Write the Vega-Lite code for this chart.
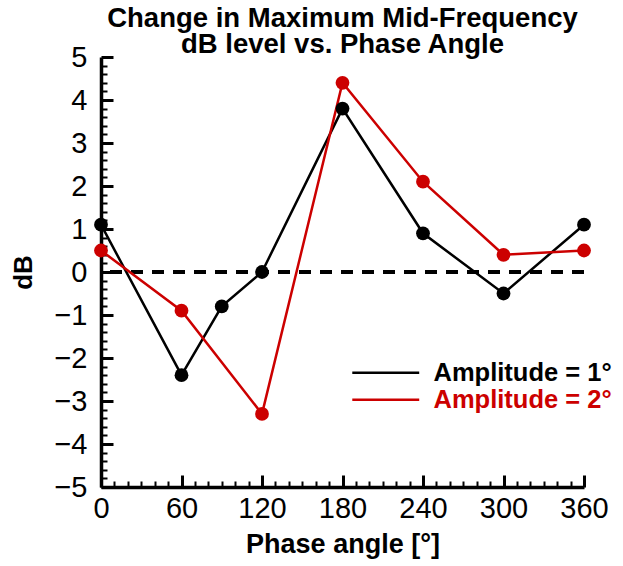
{
  "$schema": "https://vega.github.io/schema/vega-lite/v6.json",
  "autosize": "none",
  "width": 483,
  "height": 430,
  "padding": {"left": 101, "top": 57, "right": 39, "bottom": 79},
  "background": "white",
  "config": {
    "view": {"stroke": null},
    "font": "Liberation Sans",
    "axis": {"grid": false, "domainColor": "black", "tickColor": "black", "labelColor": "black", "titleColor": "black"}
  },
  "title": {
    "text": ["Change in Maximum Mid-Frequency", "dB level  vs. Phase Angle"],
    "anchor": "middle",
    "frame": "group",
    "font": "Liberation Sans",
    "fontSize": 27.5,
    "fontWeight": "bold",
    "lineHeight": 26,
    "color": "black",
    "offset": -15
  },
  "data": {
    "values": [
      {"angle": 0, "db": 1.1, "series": "Amplitude = 1°"},
      {"angle": 60, "db": -2.4, "series": "Amplitude = 1°"},
      {"angle": 90, "db": -0.8, "series": "Amplitude = 1°"},
      {"angle": 120, "db": 0.0, "series": "Amplitude = 1°"},
      {"angle": 180, "db": 3.8, "series": "Amplitude = 1°"},
      {"angle": 240, "db": 0.9, "series": "Amplitude = 1°"},
      {"angle": 300, "db": -0.5, "series": "Amplitude = 1°"},
      {"angle": 360, "db": 1.1, "series": "Amplitude = 1°"},
      {"angle": 0, "db": 0.5, "series": "Amplitude = 2°"},
      {"angle": 60, "db": -0.9, "series": "Amplitude = 2°"},
      {"angle": 120, "db": -3.3, "series": "Amplitude = 2°"},
      {"angle": 180, "db": 4.4, "series": "Amplitude = 2°"},
      {"angle": 240, "db": 2.1, "series": "Amplitude = 2°"},
      {"angle": 300, "db": 0.4, "series": "Amplitude = 2°"},
      {"angle": 360, "db": 0.5, "series": "Amplitude = 2°"}
    ]
  },
  "resolve": {"axis": {"x": "independent", "y": "independent"}},
  "layer": [
    {
      "mark": {"type": "rule", "strokeDash": [12, 9], "strokeWidth": 3, "color": "black"},
      "encoding": {
        "y": {"datum": 0, "type": "quantitative", "scale": {"domain": [-5, 5], "nice": false},
          "axis": {"orient": "left", "values": [-4.8,-4.6,-4.4,-4.2,-3.8,-3.6,-3.4,-3.2,-2.8,-2.6,-2.4,-2.2,-1.8,-1.6,-1.4,-1.2,-0.8,-0.6,-0.4,-0.2,0.2,0.4,0.6,0.8,1.2,1.4,1.6,1.8,2.2,2.4,2.6,2.8,3.2,3.4,3.6,3.8,4.2,4.4,4.6,4.8],
            "labels": false, "domain": false, "title": null, "tickSize": -6, "tickWidth": 2}}
      }
    },
    {
      "mark": {"type": "line", "strokeWidth": 2.5},
      "encoding": {
        "x": {"field": "angle", "type": "quantitative", "scale": {"domain": [0, 360], "nice": false},
          "axis": {"orient": "bottom", "values": [0, 60, 120, 180, 240, 300, 360], "title": "Phase angle [°]",
            "labelFontSize": 29, "labelPadding": 19, "labelFlush": false, "titleFontSize": 27, "titleFontWeight": "bold", "titlePadding": 8,
            "domainWidth": 3.5, "tickSize": -12, "tickWidth": 3}},
        "y": {"field": "db", "type": "quantitative", "scale": {"domain": [-5, 5], "nice": false},
          "axis": {"orient": "left", "values": [-5,-4,-3,-2,-1,0,1,2,3,4,5], "title": "dB",
            "labelFontSize": 29, "labelPadding": 26, "labelFlush": false, "titleFontSize": 26, "titleFontWeight": "bold", "titlePadding": 17,
            "domainWidth": 3.5, "tickSize": -12, "tickWidth": 3}},
        "color": {"field": "series", "type": "nominal",
          "scale": {"domain": ["Amplitude = 1°", "Amplitude = 2°"], "range": ["#000000", "#cc0000"]},
          "legend": {"orient": "none", "legendX": 272, "legendY": 303, "title": null,
            "symbolType": "M-4,0H4", "symbolSize": 280, "symbolStrokeWidth": 2.5,
            "labelFontSize": 25.5, "labelFontWeight": "bold", "labelLimit": 400, "labelOffset": 35, "rowPadding": 0,
            "encode": {"labels": {"update": {"fill": {"scale": "color", "field": "value"}}}}}}
      }
    },
    {
      "mark": {"type": "point", "filled": true, "size": 190, "opacity": 1},
      "encoding": {
        "x": {"field": "angle", "type": "quantitative",
          "axis": {"orient": "bottom", "values": [10,20,30,40,50,70,80,90,100,110,130,140,150,160,170,190,200,210,220,230,250,260,270,280,290,310,320,330,340,350],
            "labels": false, "domain": false, "title": null, "tickSize": -6, "tickWidth": 2}},
        "y": {"field": "db", "type": "quantitative", "axis": null},
        "color": {"field": "series", "type": "nominal", "legend": null}
      }
    }
  ]
}
